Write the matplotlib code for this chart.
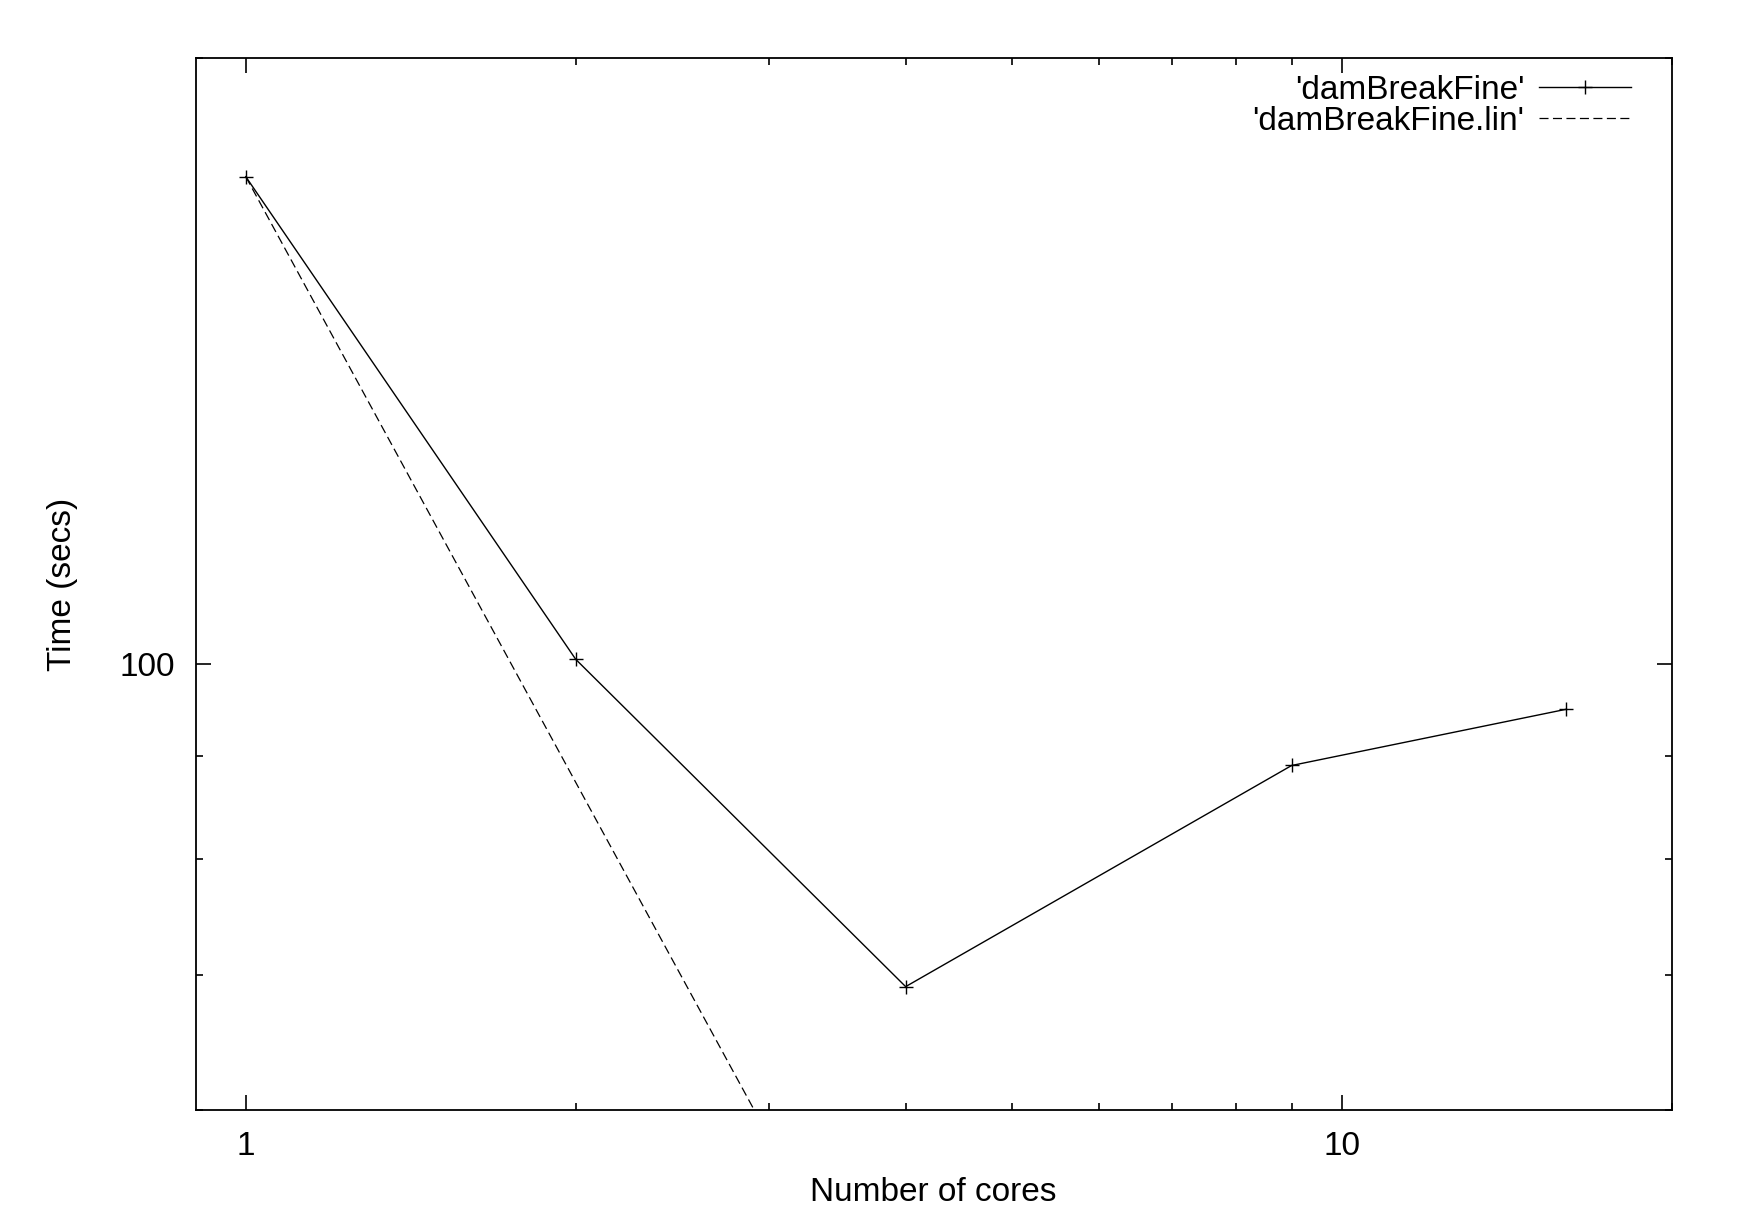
import matplotlib
matplotlib.use("Agg")
import matplotlib.pyplot as plt
from matplotlib.ticker import FixedLocator, NullFormatter, FixedFormatter

plt.rcParams['font.family'] = ['Liberation Sans', 'DejaVu Sans']
plt.rcParams['lines.scale_dashes'] = False

cores = [1, 2, 4, 9, 16]
times = [174.6, 100.5, 69.1, 89.0, 94.9]
lin_times = [174.6 / c for c in cores]

x_major = [1, 10]
x_major_labels = ["1", "10"]
x_minor = [2, 3, 4, 5, 6, 7, 8, 9, 20]
y_major = [100]
y_major_labels = ["100"]
y_minor = [60, 70, 80, 90, 200]

FS = 24

fig = plt.figure(figsize=(17.64, 12.26), dpi=100)
ax = fig.add_axes([0.1109, 0.0946, 0.9477 - 0.1109, 0.9527 - 0.0946])

ax.set_xscale('log')
ax.set_yscale('log')
ax.set_xlim(0.9, 20)
ax.set_ylim(60, 200)

ax.plot(cores, times, color='black', lw=1.0, marker='+', markersize=10.5,
        markeredgewidth=1.0, label="'damBreakFine'")
ax.plot(cores, lin_times, color='black', lw=0.9, dashes=(6.5, 3.2),
        label="'damBreakFine.lin'")

ax.xaxis.set_major_locator(FixedLocator(x_major))
ax.xaxis.set_major_formatter(FixedFormatter(x_major_labels))
ax.xaxis.set_minor_locator(FixedLocator(x_minor))
ax.xaxis.set_minor_formatter(NullFormatter())
ax.yaxis.set_major_locator(FixedLocator(y_major))
ax.yaxis.set_major_formatter(FixedFormatter(y_major_labels))
ax.yaxis.set_minor_locator(FixedLocator(y_minor))
ax.yaxis.set_minor_formatter(NullFormatter())

ax.tick_params(which='both', direction='in', top=True, right=True, width=1.2, labelsize=FS)
ax.tick_params(which='major', length=11)
ax.tick_params(which='minor', length=5.3)
ax.tick_params(axis='x', which='major', pad=15)
ax.tick_params(axis='y', which='major', pad=15)

for s in ax.spines.values():
    s.set_linewidth(1.3)

ax.set_xlabel('Number of cores', fontsize=FS)
ax.xaxis.label.set_va('center')
ax.xaxis.set_label_coords(0.5, (1110 - 1192) / 1052)
ax.set_ylabel('Time (secs)', fontsize=FS)
ax.yaxis.label.set_va('center')
ax.yaxis.set_label_coords((62.5 - 195.7) / 1476, 0.5)

leg = ax.legend(loc='upper right', frameon=False, markerfirst=False, fontsize=FS,
                handlelength=2.77, handletextpad=0.44, labelspacing=0.0,
                borderaxespad=0.0, borderpad=0.0,
                bbox_to_anchor=(0.9725, 0.9837))

fig.savefig('out.png', dpi=100)
